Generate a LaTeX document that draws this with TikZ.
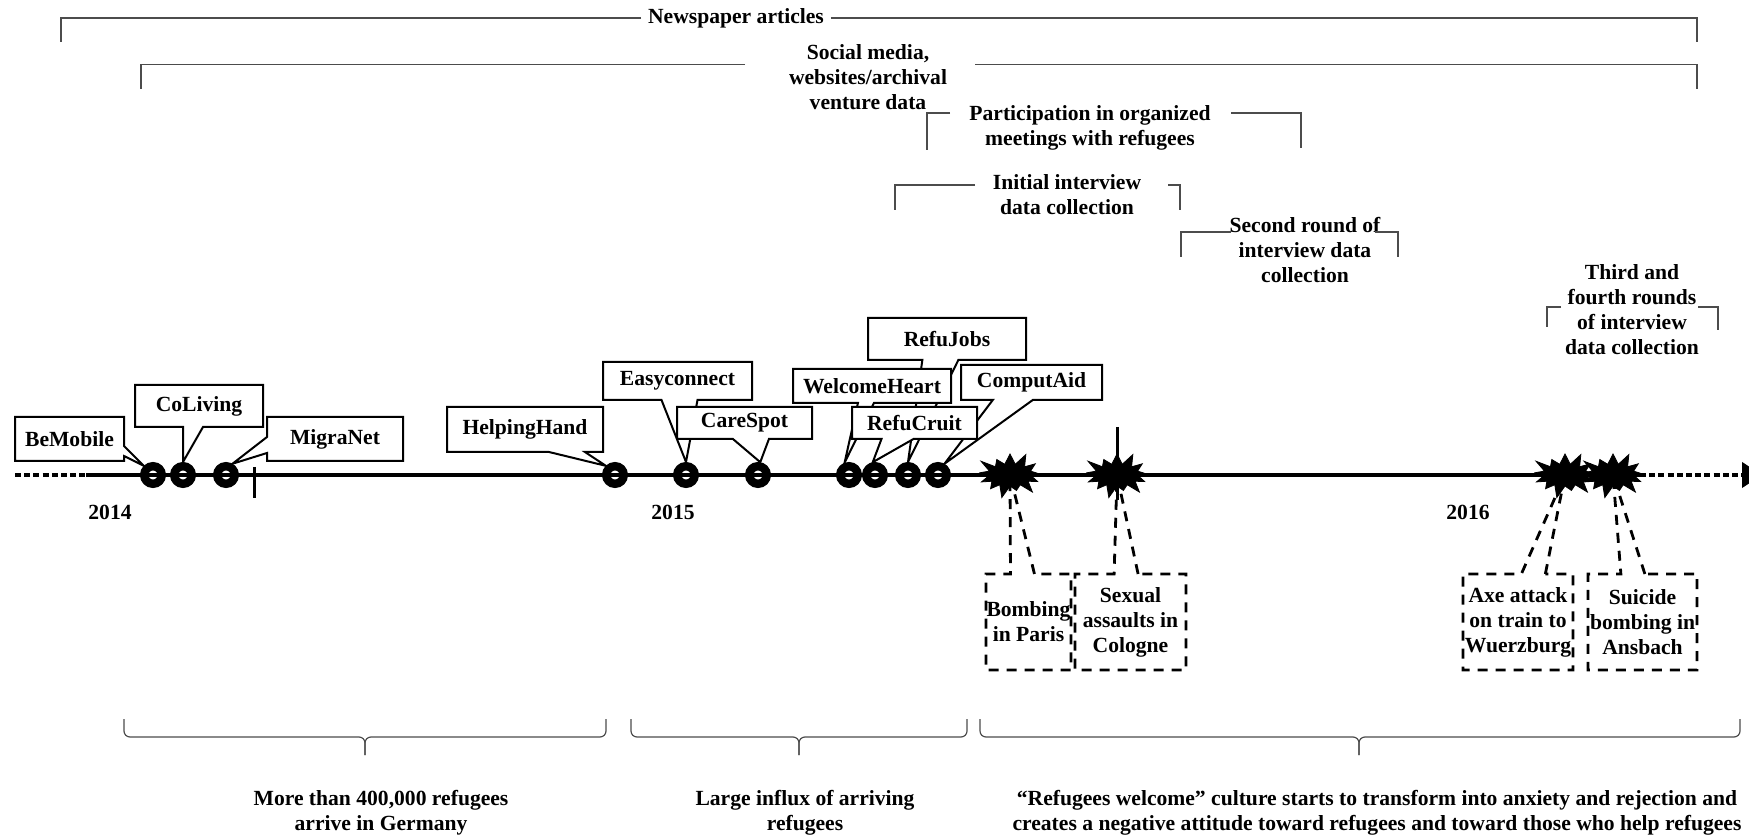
\documentclass[tikz,border=0pt]{standalone}
\usepackage{fontspec}
\setmainfont{Liberation Serif}
\usepackage{tikz}
\usetikzlibrary{shapes.callouts, shapes.symbols, arrows.meta}
\tikzset{
    x=0.5pt, y=-0.5pt, % one unit is one pixel, y runs downwards
    every node/.style={font=\fontsize{10.8}{12.5}\selectfont\bfseries, align=center},
    axis/.style={line width=2pt}, % the time line itself
    dots/.style={line width=2pt, dash pattern=on 3pt off 1.6pt}, % dotted ends of the time line
    ring/.style={circle, draw, line width=4.2pt, minimum size=8.8pt, inner sep=0pt}, % a venture on the time line
    tick/.style={line width=1.5pt},
    venture/.style={rectangle callout, draw, fill=white, line width=1pt, inner sep=0pt},
    event/.style={rectangle callout, draw, line width=1.4pt, dash pattern=on 5pt off 4pt,
        inner sep=0pt, minimum height=48pt, callout pointer width=12pt},
    blast/.style={starburst, fill=black, draw=black, starburst points=13, starburst point height=7pt,
        minimum width=36pt, minimum height=25pt, inner sep=0pt},
    bracket/.style={line width=0.6pt, black!70}, % data source periods at the top
    period/.style={line width=0.6pt, black!70, rounded corners=3pt}, % curly braces at the bottom
}

\begin{document}
\begin{tikzpicture}
\useasboundingbox (0,0) rectangle (1749,838);

% data sources
\node (news) at (736,18) {Newspaper articles};
\draw[bracket] (news.west) -| (61,42);
\draw[bracket] (news.east) -| (1697,42);
\node (social) at (868,77) {Social media,\\websites/archival\\venture data};
\draw[bracket] (745,64.5) -| (141,89);
\draw[bracket] (975,64.5) -| (1697,89);
\node (meet) at (1090,127.5) {Participation in organized\\meetings with refugees};
\draw[bracket] (950,113) -| (927,150);
\draw[bracket] (1231,113) -| (1301,148);
\node (first) at (1067,195) {Initial interview\\data collection};
\draw[bracket] (975,185) -| (895,210);
\draw[bracket] (1168,185) -| (1180,210);
\node (second) at (1305,250) {Second round of\\interview data\\collection};
\draw[bracket] (1231,232) -| (1181,257);
\draw[bracket] (1375,232) -| (1398,257);
\node (third) at (1632,309.5) {Third and\\fourth rounds\\of interview\\data collection};
\draw[bracket] (1561,307) -| (1547,327);
\draw[bracket] (1698,307) -| (1718,330);

% time line
\draw[dots] (15,475) -- (86,475);
\draw[axis] (86,475) -- (1640,475);
\draw[dots, -{Triangle[length=10pt, width=12.5pt]}] (1640,475) -- (1762,475);
\draw[tick] (254,467) -- (254,498);
\draw[tick] (1117,427) -- (1117,500);
\node (y14) at (110,512) {2014};
\node (y15) at (673,512) {2015};
\node (y16) at (1468,512) {2016};

\foreach \x/\n in {153/bm, 183/cl, 226/mn, 615/hh, 686/ec, 758/cs, 849/wh, 875/rc, 908/rj, 938/ca}
    \node[ring] (\n) at (\x,475) {};

% ventures
\node[venture, minimum width=79pt, minimum height=21pt, callout absolute pointer={(rj.north)}, callout pointer width=18pt] (refujobs) at (947,339) {RefuJobs};
\node[venture, minimum width=74.5pt, minimum height=19pt, callout absolute pointer={(ec.north)}, callout pointer width=18pt] (easyconnect) at (677.5,381) {Easyconnect};
\node[venture, minimum width=70.5pt, minimum height=17.5pt, callout absolute pointer={(ca.60)}, callout pointer width=20pt] (computaid) at (1031.5,382.5) {ComputAid};
\node[venture, minimum width=79pt, minimum height=17pt, callout absolute pointer={(wh.110)}, callout pointer width=8pt] (welcomeheart) at (872,386) {WelcomeHeart};
\node[venture, minimum width=78pt, minimum height=22.5pt, callout absolute pointer={(hh.135)}, callout pointer width=18pt] (helpinghand) at (525,429.5) {HelpingHand};
\node[venture, minimum width=67.5pt, minimum height=16pt, callout absolute pointer={(cs.80)}, callout pointer width=18pt] (carespot) at (744.5,423) {CareSpot};
\node[venture, minimum width=62.5pt, minimum height=16pt, callout absolute pointer={(rc.100)}, callout pointer width=16pt] (reficruit) at (914.5,423) {RefuCruit};
\node[venture, minimum width=54.5pt, minimum height=22pt, callout absolute pointer={(bm.135)}, callout pointer width=5pt] (bemobile) at (69.5,439) {BeMobile};
\node[venture, minimum width=64pt, minimum height=21pt, callout absolute pointer={(cl.north)}, callout pointer width=10pt] (coliving) at (199,406) {CoLiving};
\node[venture, minimum width=68pt, minimum height=22pt, callout absolute pointer={(mn.60)}, callout pointer width=8pt] (migranet) at (335,439) {MigraNet};

% events
\node[blast] (sparis) at (1010,475) {};
\node[blast] (scologne) at (1117,475) {};
\node[blast] (saxe) at (1565,475) {};
\node[blast] (sansbach) at (1613,475) {};
\node[event, minimum width=42.5pt, callout absolute pointer={(sparis)}] (paris) at (1028.5,622) {Bombing\\in Paris};
\node[event, minimum width=55.5pt, callout absolute pointer={(scologne)}] (cologne) at (1130.5,622) {Sexual\\assaults in\\Cologne};
\node[event, minimum width=55pt, callout absolute pointer={(saxe)}] (axe) at (1518,622) {Axe attack\\on train to\\Wuerzburg};
\node[event, minimum width=54.5pt, callout absolute pointer={(sansbach)}] (ansbach) at (1642.5,622) {Suicide\\bombing in\\Ansbach};

% periods
\draw[period] (124,719) |- (365,737) -- (365,755);
\draw[period] (606,719) |- (365,737) -- (365,755);
\draw[period] (631,719) |- (799,737) -- (799,755);
\draw[period] (967,719) |- (799,737) -- (799,755);
\draw[period] (980,719) |- (1359,737) -- (1359,755);
\draw[period] (1740,719) |- (1359,737) -- (1359,755);
\node (arrive) at (381,813) {More than 400,000 refugees\\arrive in Germany};
\node (influx) at (805,813) {Large influx of arriving\\refugees};
\node (turn) at (1377,813) {“Refugees welcome” culture starts to transform into anxiety and rejection and\\creates a negative attitude toward refugees and toward those who help refugees};
\end{tikzpicture}
\end{document}
